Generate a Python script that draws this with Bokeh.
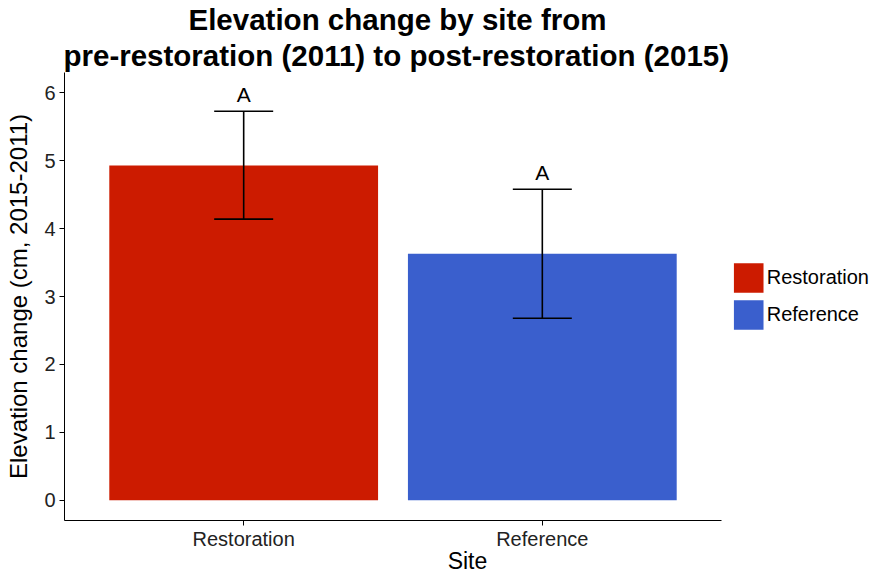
from bokeh.plotting import figure
from bokeh.models import (ColumnDataSource, Range1d, Whisker, TeeHead,
                          FixedTicker, Title, Legend, LegendItem)
from bokeh.core.properties import value
from bokeh.transform import dodge
from bokeh.embed import file_html
from bokeh.resources import INLINE

# ---- data ----
sites = ["Restoration", "Reference"]
change = [4.93, 3.63]
lower = [4.14, 2.68]
upper = [5.73, 4.58]
letters = ["A", "A"]
colors = ["#CC1B00", "#3A5FCD"]
y_ticks = [0, 1, 2, 3, 4, 5, 6]

FONT = "Liberation Sans"

# categorical positions 1..n (discrete scale), labels come from `sites`
xpos = [i + 1 for i in range(len(sites))]
src = ColumnDataSource(dict(x=xpos, site=sites, change=change, lower=lower, upper=upper,
                            letters=letters, color=colors))

W, H = 870, 576
BL, BR = 64, 0
frame_w = W - BL - BR
axis_w = 657  # pixel width of the plotting area (axis line) in the reference
x_lo, x_hi = 0.4, len(sites) + 0.6
x_end = x_lo + (x_hi - x_lo) * frame_w / axis_w

p = figure(width=W, height=H, output_backend="svg", toolbar_location=None,
           x_range=Range1d(x_lo, x_end),
           y_range=Range1d(-0.3, 6.3),
           min_border_left=BL, min_border_right=BR, min_border_top=68,
           min_border_bottom=45, background_fill_color="white",
           border_fill_color="white", outline_line_color=None)

bars = p.vbar(x="x", top="change", bottom=0, width=0.9, source=src,
              fill_color="color", line_color=None)

wh = Whisker(base="x", upper="upper", lower="lower", source=src, dimension="height",
             line_color="black", line_width=1.6, level="overlay",
             upper_head=TeeHead(size=59, line_color="black", line_width=1.6),
             lower_head=TeeHead(size=59, line_color="black", line_width=1.6))
p.add_layout(wh)

p.text(x="x", y=dodge("upper", 0.25), text="letters", source=src,
       text_align="center", text_baseline="middle", text_color="black",
       text_font=value(FONT), text_font_size="21px")

# titles (second line first, then first line on top); centred over the axis area
p.add_layout(Title(text="pre-restoration (2011) to post-restoration (2015)", align="left",
                   offset=-1, text_font=FONT, text_font_size="29.5px",
                   text_font_style="bold", text_color="black", standoff=2), "above")
p.add_layout(Title(text="Elevation change by site from", align="left",
                   offset=124, text_font=FONT, text_font_size="29.5px",
                   text_font_style="bold", text_color="black", standoff=0), "above")

p.xgrid.grid_line_color = None
p.ygrid.grid_line_color = None

for ax in (p.xaxis[0], p.yaxis[0]):
    ax.axis_line_color = "black"
    ax.axis_line_width = 1
    ax.major_tick_line_color = "black"
    ax.major_tick_out = 5
    ax.major_tick_in = 0
    ax.minor_tick_line_color = None
    ax.major_label_text_font = FONT
    ax.major_label_text_font_size = "20px"
    ax.major_label_text_color = "#222222"
    ax.axis_label_text_font = FONT
    ax.axis_label_text_font_size = "23px"
    ax.axis_label_text_font_style = "normal"
    ax.axis_label_text_color = "black"
    ax.major_label_standoff = 4

p.xaxis.bounds = (x_lo, x_hi)
p.xaxis.ticker = FixedTicker(ticks=xpos)
p.xaxis.major_label_overrides = {x: s for x, s in zip(xpos, sites)}
p.xaxis.axis_label = "Site"
p.xaxis.axis_label_standoff = -5
p.xaxis.major_label_standoff = 2
p.yaxis.axis_label = "Elevation change (cm, 2015-2011)"
p.yaxis.axis_label_text_font_size = "24px"
p.yaxis.axis_label_standoff = 9
p.yaxis.ticker = FixedTicker(ticks=y_ticks)

legend = Legend(items=[LegendItem(label=s, renderers=[bars], index=i) for i, s in enumerate(sites)],
                location="right", glyph_width=37, glyph_height=37, spacing=0,
                padding=0, margin=1, border_line_color=None, background_fill_alpha=0,
                label_text_font=FONT, label_text_font_size="20px", label_standoff=0,
                label_text_color="black")
p.add_layout(legend)

open("out.html", "w").write(file_html(p, INLINE))
